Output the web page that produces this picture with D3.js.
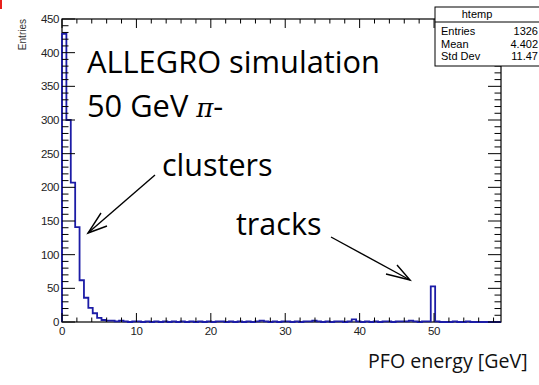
<!DOCTYPE html>
<html>
<head>
<meta charset="utf-8">
<script src="https://cdn.jsdelivr.net/npm/d3@7"></script>
<style>
  html, body { margin: 0; padding: 0; background: #fff; }
  svg { display: block; }
</style>
</head>
<body>
<svg id="chart" width="539" height="385"></svg>
<script>
// Histogram of PFO energies: 100 bins over [0, 59] GeV
const xDomain = [0, 59];
const nBins = 100;
const counts = [
  428, 300, 207, 141, 62, 36, 21, 13, 6, 3,
  2, 2, 1, 2, 1, 0, 1, 1, 0, 1,
  0, 1, 0, 1, 0, 1, 0, 1, 0, 1,
  0, 1, 0, 1, 0, 1, 1, 0, 1, 0,
  1, 0, 1, 0, 1, 2, 1, 0, 1, 0,
  1, 1, 0, 1, 0, 1, 1, 2, 1, 0,
  1, 0, 1, 1, 0, 1, 4, 1, 0, 1,
  0, 1, 0, 1, 1, 0, 1, 1, 1, 2,
  1, 0, 1, 1, 53, 1, 0, 0, 0, 1,
  0, 0, 1, 0, 0, 0, 0, 0, 0, 0
];
const yDomain = [0, 450];
const xMajorTicks = [0, 10, 20, 30, 40, 50];
const xMinorTicks = [2, 4, 6, 8, 12, 14, 16, 18, 22, 24, 26, 28, 32, 34, 36, 38, 42, 44, 46, 48, 52, 54, 56, 58];
const yMajorTicks = [0, 50, 100, 150, 200, 250, 300, 350, 400, 450];
const yMinorTicks = d3.range(10, 450, 10).filter(v => v % 50 !== 0);
const statsTitle = "htemp";
const statsLabels = ["Entries", "Mean", "Std Dev"];
const statsValues = ["1326", "4.402", "11.47"];

const svg = d3.select("#chart");
const frame = { left: 62, right: 501, top: 19, bottom: 322 };

const x = d3.scaleLinear().domain(xDomain).range([frame.left, frame.right]);
const y = d3.scaleLinear().domain(yDomain).range([frame.bottom, frame.top]);

// small red corner marker
svg.append("rect").attr("x", 0).attr("y", 0).attr("width", 2).attr("height", 9).attr("fill", "#e8201c");

// frame
svg.append("rect")
  .attr("x", frame.left).attr("y", frame.top)
  .attr("width", frame.right - frame.left).attr("height", frame.bottom - frame.top)
  .attr("fill", "none").attr("stroke", "#000").attr("stroke-width", 1.2);

// histogram outline as a step path
const binW = (xDomain[1] - xDomain[0]) / nBins;
const pts = [[xDomain[0], 0]];
counts.forEach((c, i) => {
  const e0 = xDomain[0] + i * binW;
  pts.push([e0, c], [e0 + binW, c]);
});
pts.push([xDomain[1], 0]);
svg.append("path")
  .attr("d", d3.line().x(d => x(d[0])).y(d => y(d[1]))(pts))
  .attr("fill", "none").attr("stroke", "#1c1ca6").attr("stroke-width", 1.8)
  .attr("stroke-linejoin", "miter");

// ticks: drawn inward on all four sides
const tickG = svg.append("g").attr("stroke", "#000").attr("stroke-width", 1);
const xMajLen = 9, xMinLen = 4.5, yMajLen = 13, yMinLen = 6.5;
function xTicks(vals, len) {
  vals.forEach(v => {
    tickG.append("line").attr("x1", x(v)).attr("x2", x(v)).attr("y1", frame.bottom).attr("y2", frame.bottom - len);
    tickG.append("line").attr("x1", x(v)).attr("x2", x(v)).attr("y1", frame.top).attr("y2", frame.top + len);
  });
}
function yTicks(vals, len) {
  vals.forEach(v => {
    tickG.append("line").attr("x1", frame.left).attr("x2", frame.left + len).attr("y1", y(v)).attr("y2", y(v));
    tickG.append("line").attr("x1", frame.right).attr("x2", frame.right - len).attr("y1", y(v)).attr("y2", y(v));
  });
}
xTicks(xMajorTicks, xMajLen);
xTicks(xMinorTicks, xMinLen);
yTicks(yMajorTicks, yMajLen);
yTicks(yMinorTicks, yMinLen);

// tick labels
const labFont = "'Liberation Sans', Arial, sans-serif";
svg.append("g").selectAll("text").data(yMajorTicks).join("text")
  .attr("x", frame.left - 3).attr("y", d => y(d) + 4)
  .attr("text-anchor", "end").attr("font-family", labFont).attr("font-size", 11.5)
  .attr("letter-spacing", -0.4).attr("fill", "#222").text(d => d);
svg.append("g").selectAll("text").data(xMajorTicks).join("text")
  .attr("x", d => x(d)).attr("y", frame.bottom + 13)
  .attr("text-anchor", "middle").attr("font-family", labFont).attr("font-size", 11.5)
  .attr("letter-spacing", -0.4).attr("fill", "#222").text(d => d);

// y-axis title
svg.append("text")
  .attr("transform", `translate(26, ${frame.top}) rotate(-90)`)
  .attr("text-anchor", "end").attr("font-family", labFont).attr("font-size", 10)
  .attr("fill", "#333").text("Entries");

// stats box
const sb = svg.append("g");
sb.append("rect").attr("x", 435).attr("y", 7).attr("width", 120).attr("height", 59)
  .attr("fill", "#fff").attr("stroke", "#000").attr("stroke-width", 1);
sb.append("line").attr("x1", 435).attr("x2", 539).attr("y1", 22).attr("y2", 22).attr("stroke", "#000");
sb.append("text").attr("x", 477).attr("y", 18).attr("text-anchor", "middle")
  .attr("font-family", labFont).attr("font-size", 11).text(statsTitle);
statsLabels.forEach((s, i) => {
  sb.append("text").attr("x", 441).attr("y", 35 + i * 12.5)
    .attr("font-family", labFont).attr("font-size", 11).text(s);
  sb.append("text").attr("x", 538).attr("y", 35 + i * 12.5).attr("text-anchor", "end")
    .attr("font-family", labFont).attr("font-size", 11).text(statsValues[i]);
});

// annotations
const annFont = "'Open Sans', 'Noto Sans', sans-serif";
svg.append("text").attr("x", 87).attr("y", 73).attr("font-family", annFont)
  .attr("font-size", 30.8).attr("fill", "#000").text("ALLEGRO simulation");
const t2 = svg.append("text").attr("x", 87).attr("y", 117).attr("font-family", annFont)
  .attr("font-size", 30.8).attr("fill", "#000");
t2.append("tspan").text("50 GeV ");
t2.append("tspan").attr("font-family", "'DejaVu Serif', serif").attr("font-style", "italic")
  .attr("font-size", 26).text("π");
t2.append("tspan").text("-");
svg.append("text").attr("x", 162).attr("y", 176).attr("font-family", annFont)
  .attr("font-size", 30.5).attr("fill", "#000").text("clusters");
svg.append("text").attr("x", 236).attr("y", 235).attr("font-family", annFont)
  .attr("font-size", 30.5).attr("fill", "#000").text("tracks");
svg.append("text").attr("x", 368).attr("y", 368).attr("font-family", annFont)
  .attr("font-size", 19.6).attr("fill", "#111").text("PFO energy [GeV]");

// arrows
const arrowG = svg.append("g").attr("stroke", "#000").attr("stroke-width", 1.4).attr("fill", "none");
arrowG.append("line").attr("x1", 155).attr("y1", 175).attr("x2", 88).attr("y2", 233);
arrowG.append("path").attr("d", "M101,213 L88,233 L107,226");
arrowG.append("line").attr("x1", 331).attr("y1", 237).attr("x2", 410).attr("y2", 280);
arrowG.append("path").attr("d", "M397,265 L410,280 L386,274");
</script>
</body>
</html>
